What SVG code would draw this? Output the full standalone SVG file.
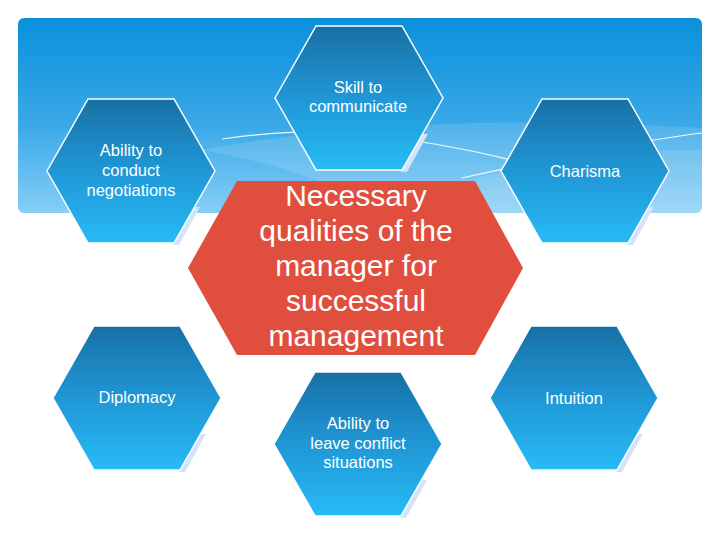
<svg xmlns="http://www.w3.org/2000/svg" xmlns:xlink="http://www.w3.org/1999/xlink" width="720" height="540" viewBox="0 0 720 540">
  <defs>
    <linearGradient id="bannerGrad" x1="0" y1="0" x2="0" y2="1">
      <stop offset="0" stop-color="#0a90db"/>
      <stop offset="0.55" stop-color="#3aa9e8"/>
      <stop offset="1" stop-color="#86cef6"/>
    </linearGradient>
    <linearGradient id="hexGrad" x1="0" y1="0" x2="0" y2="1">
      <stop offset="0" stop-color="#1870a4"/>
      <stop offset="0.45" stop-color="#1f93d2"/>
      <stop offset="1" stop-color="#27bbf6"/>
    </linearGradient>
    <polygon id="hex" points="-84,0 -43,-72 43,-72 84,0 43,72 -43,72"/>
    <polygon id="shadow" points="63,36 69,36 48,74 42,74"/>
    <style>
      .hex { fill: url(#hexGrad); stroke: #ffffff; stroke-width: 1.5; }
      .shadow { fill: #d3e4f7; }
      .label { font-family: "Liberation Sans", Arial, sans-serif; font-size: 16.5px; fill: #ffffff; text-anchor: middle; }
      .big { font-family: "Liberation Sans", Arial, sans-serif; font-size: 30px; fill: #ffffff; text-anchor: middle; }
      .arc { fill: none; stroke: #ffffff; stroke-width: 1.2; opacity: 0.9; }
    </style>
  </defs>

  <rect width="720" height="540" fill="#ffffff"/>

  <g id="banner">
    <rect x="18" y="18" width="684" height="195" rx="6" fill="url(#bannerGrad)"/>
    <path d="M200,150 Q420,110 702,128 L702,213 L380,213 Q320,170 200,150 Z" fill="#ffffff" opacity="0.12"/>
    <path d="M400,200 Q560,150 702,150 L702,213 L430,213 Z" fill="#ffffff" opacity="0.1"/>
  </g>

  <g id="connectors">
    <path class="arc" d="M222,139 Q300,128 360,134 Q440,142 520,162"/>
    <path class="arc" d="M462,178 Q520,165 600,150 Q660,138 702,133"/>
  </g>

  <g id="node-skill">
    <use xlink:href="#shadow" class="shadow" x="359" y="98"/>
    <use xlink:href="#hex" class="hex" x="359" y="98"/>
    <text class="label" x="358" y="93">Skill to</text>
    <text class="label" x="358" y="112">communicate</text>
  </g>

  <g id="node-negotiations">
    <use xlink:href="#shadow" class="shadow" x="131" y="171"/>
    <use xlink:href="#hex" class="hex" x="131" y="171"/>
    <text class="label" x="131" y="156">Ability to</text>
    <text class="label" x="131" y="176">conduct</text>
    <text class="label" x="131" y="196">negotiations</text>
  </g>

  <g id="node-charisma">
    <use xlink:href="#shadow" class="shadow" x="585" y="171"/>
    <use xlink:href="#hex" class="hex" x="585" y="171"/>
    <text class="label" x="585" y="177">Charisma</text>
  </g>

  <g id="node-diplomacy">
    <use xlink:href="#shadow" class="shadow" x="137" y="398"/>
    <use xlink:href="#hex" class="hex" x="137" y="398"/>
    <text class="label" x="137" y="403">Diplomacy</text>
  </g>

  <g id="node-conflict">
    <use xlink:href="#shadow" class="shadow" x="358" y="444"/>
    <use xlink:href="#hex" class="hex" x="358" y="444"/>
    <text class="label" x="358" y="429">Ability to</text>
    <text class="label" x="358" y="449">leave conflict</text>
    <text class="label" x="358" y="468">situations</text>
  </g>

  <g id="node-intuition">
    <use xlink:href="#shadow" class="shadow" x="574" y="398"/>
    <use xlink:href="#hex" class="hex" x="574" y="398"/>
    <text class="label" x="574" y="404">Intuition</text>
  </g>

  <g id="node-center">
    <polygon points="188,268 237,181 475,181 523,268 475,355 237,355" fill="#e04e3d"/>
    <text class="big" x="356" y="206">Necessary</text>
    <text class="big" x="356" y="241">qualities of the</text>
    <text class="big" x="356" y="276">manager for</text>
    <text class="big" x="356" y="311">successful</text>
    <text class="big" x="356" y="346">management</text>
  </g>
</svg>
